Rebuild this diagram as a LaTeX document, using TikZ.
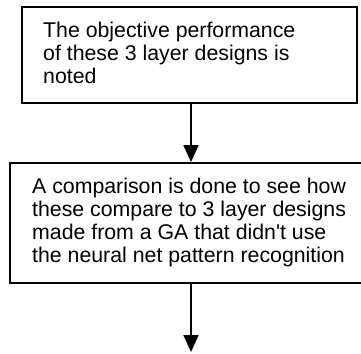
\documentclass[tikz,border=0pt]{standalone}
\usepackage{fontspec}
\setmainfont{Liberation Sans}[Ligatures=TeXOff]
\usetikzlibrary{arrows.meta}
\begin{document}
\begin{tikzpicture}[x=1pt,y=1pt,
  boxstyle/.style={draw=black,line width=1.8pt,inner sep=0pt,fill=white},
  txt/.style={inner sep=0pt,anchor=north west,align=left,
    font=\fontsize{21.3}{22.8}\selectfont},
  arr/.style={line width=1.8pt,-{Triangle[length=17pt,width=15pt]}}]
\useasboundingbox (0,0) rectangle (361,-353);
\clip (0,0) rectangle (361,-353);
\node[boxstyle,minimum width=335pt,minimum height=96pt] (b1) at (189.5,-55) {};
\node[boxstyle,minimum width=354pt,minimum height=120pt] (b2) at (187,-223) {};
\node[txt] (t1) at (43,-22) {The objective performance\\of these 3 layer designs is\\noted};
\node[txt] (t2) at (32,-178) {A comparison is done to see how\\these compare to 3 layer designs\\made from a GA that didn't use\\the neural net pattern recognition};
\coordinate (ax) at (191,0);
\coordinate (end) at (191,-352);
\draw[arr] (b1.south -| ax) -- (b2.north -| ax);
\draw[arr] (b2.south -| ax) -- (end);
\end{tikzpicture}
\end{document}
